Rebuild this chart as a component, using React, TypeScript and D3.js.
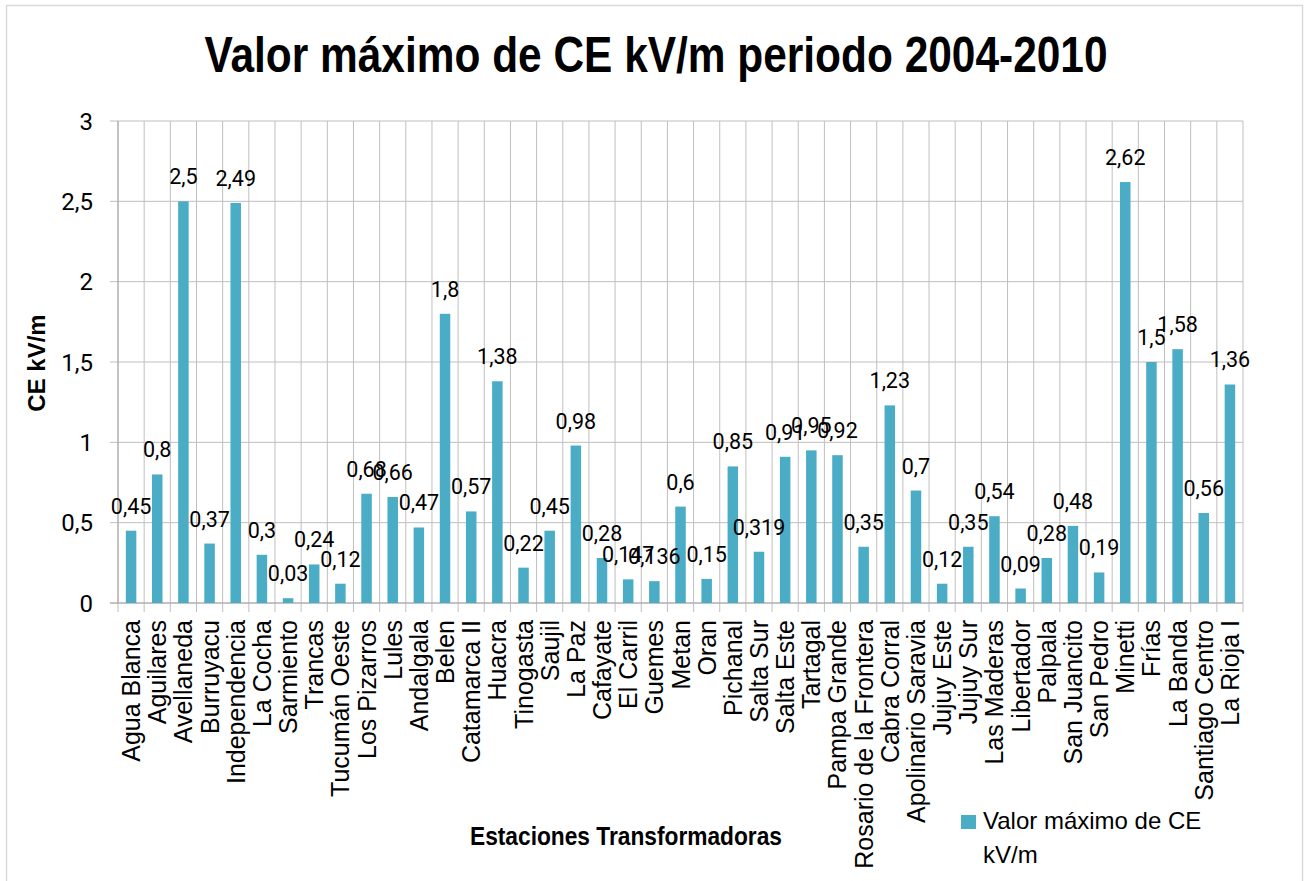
import React from "react";
import * as d3 from "d3";

const categories = [
  "Agua Blanca", "Aguilares", "Avellaneda", "Burruyacu", "Independencia", "La Cocha",
  "Sarmiento", "Trancas", "Tucumán Oeste", "Los Pizarros", "Lules", "Andalgala", "Belen",
  "Catamarca II", "Huacra", "Tinogasta", "Saujil", "La Paz", "Cafayate", "El Carril",
  "Guemes", "Metan", "Oran", "Pichanal", "Salta Sur", "Salta Este", "Tartagal",
  "Pampa Grande", "Rosario de la Frontera", "Cabra Corral", "Apolinario Saravia",
  "Jujuy Este", "Jujuy Sur", "Las Maderas", "Libertador", "Palpala", "San Juancito",
  "San Pedro", "Minetti", "Frías", "La Banda", "Santiago Centro", "La Rioja I",
];

const values = [
  0.45, 0.8, 2.5, 0.37, 2.49, 0.3,
  0.03, 0.24, 0.12, 0.68, 0.66, 0.47, 1.8,
  0.57, 1.38, 0.22, 0.45, 0.98, 0.28, 0.147,
  0.136, 0.6, 0.15, 0.85, 0.319, 0.91, 0.95,
  0.92, 0.35, 1.23, 0.7,
  0.12, 0.35, 0.54, 0.09, 0.28, 0.48,
  0.19, 2.62, 1.5, 1.58, 0.56, 1.36,
];

const yTicks = [0, 0.5, 1, 1.5, 2, 2.5, 3];

const title = "Valor máximo de CE kV/m periodo 2004-2010";
const yTitle = "CE kV/m";
const xTitle = "Estaciones Transformadoras";
const legendLines = ["Valor máximo de CE", "kV/m"];

const fmt = (v: number) => String(v).replace(".", ",");

const NARROW = "'Liberation Sans Narrow', 'Arial Narrow', 'Liberation Sans', sans-serif";
const ROBOTO = "Roboto, 'Liberation Sans', sans-serif";
const BAR = "#4BACC6";

export default function App() {
  const W = 1311;
  const H = 881;
  const left = 118;
  const right = 1243;
  const top = 121;
  const bottom = 603;

  const x = d3.scaleBand<string>().domain(categories).range([left, right]).paddingInner(0).paddingOuter(0);
  const y = d3.scaleLinear().domain([0, 3]).range([bottom, top]);
  const bw = 10.5;
  const step = x.step();

  return (
    <svg
      width={W}
      height={H}
      style={{ position: "absolute", left: 0, top: 0, background: "#fff" }}
    >
      <rect x={0} y={0} width={W} height={H} fill="#fff" />
      {/* chart border */}
      <path d={`M6.5,${H} V5.5 H1302.5 V${H}`} fill="none" stroke="#D9D9D9" strokeWidth={1.5} />

      {/* title */}
      <text
        x={656}
        y={72}
        textAnchor="middle"
        fontFamily={NARROW}
        fontWeight="bold"
        fontSize={50}
        textLength={903}
        lengthAdjust="spacingAndGlyphs"
        fill="#000"
      >
        {title}
      </text>

      {/* horizontal gridlines */}
      {yTicks.map((t) => (
        <line key={"h" + t} x1={left - 8} x2={right} y1={y(t)} y2={y(t)} stroke="#BFBFBF" strokeWidth={1} />
      ))}
      {/* vertical gridlines & ticks */}
      {d3.range(categories.length + 1).map((i) => {
        const xx = left + i * step;
        return (
          <line key={"v" + i} x1={xx} x2={xx} y1={top} y2={bottom + 9} stroke="#BFBFBF" strokeWidth={1} />
        );
      })}
      {/* axes */}
      <line x1={left} x2={left} y1={top} y2={bottom} stroke="#A6A6A6" strokeWidth={1} />
      <line x1={left - 8} x2={right} y1={bottom} y2={bottom} stroke="#A6A6A6" strokeWidth={1} />

      {/* y tick labels */}
      {yTicks.map((t) => (
        <text
          key={"yl" + t}
          x={93}
          y={y(t)}
          dy="0.36em"
          textAnchor="end"
          fontFamily={ROBOTO}
          fontSize={24}
          fill="#000"
        >
          {fmt(t)}
        </text>
      ))}

      {/* bars */}
      {values.map((v, i) => {
        const cx = (x(categories[i]) as number) + step / 2;
        return (
          <rect
            key={"b" + i}
            x={cx - bw / 2}
            y={y(v)}
            width={bw}
            height={bottom - y(v)}
            fill={BAR}
          />
        );
      })}

      {/* data labels */}
      {values.map((v, i) => {
        const cx = (x(categories[i]) as number) + step / 2;
        return (
          <text
            key={"dl" + i}
            x={cx}
            y={y(v) - 17}
            textAnchor="middle"
            fontFamily={ROBOTO}
            fontSize={21.5}
            fill="#000"
          >
            {fmt(v)}
          </text>
        );
      })}

      {/* category labels */}
      {categories.map((c, i) => {
        const cx = (x(c) as number) + step / 2;
        return (
          <text
            key={"cl" + i}
            transform={`translate(${cx},620) rotate(-90)`}
            dy="0.36em"
            textAnchor="end"
            fontFamily={NARROW}
            fontSize={25}
            fill="#000"
          >
            {c}
          </text>
        );
      })}

      {/* y axis title */}
      <text
        transform={`translate(45,363) rotate(-90)`}
        textAnchor="middle"
        fontFamily={NARROW}
        fontWeight="bold"
        fontSize={24}
        fill="#000"
      >
        {yTitle}
      </text>

      {/* x axis title */}
      <text
        x={626}
        y={845}
        textAnchor="middle"
        fontFamily={NARROW}
        fontWeight="bold"
        fontSize={25}
        textLength={312}
        lengthAdjust="spacingAndGlyphs"
        fill="#000"
      >
        {xTitle}
      </text>

      {/* legend */}
      <rect x={961} y={815} width={15} height={14} fill={BAR} />
      {legendLines.map((l, i) => (
        <text
          key={"lg" + i}
          x={983}
          y={829 + i * 34}
          fontFamily={NARROW}
          fontSize={24}
          fill="#000"
        >
          {l}
        </text>
      ))}
    </svg>
  );
}
